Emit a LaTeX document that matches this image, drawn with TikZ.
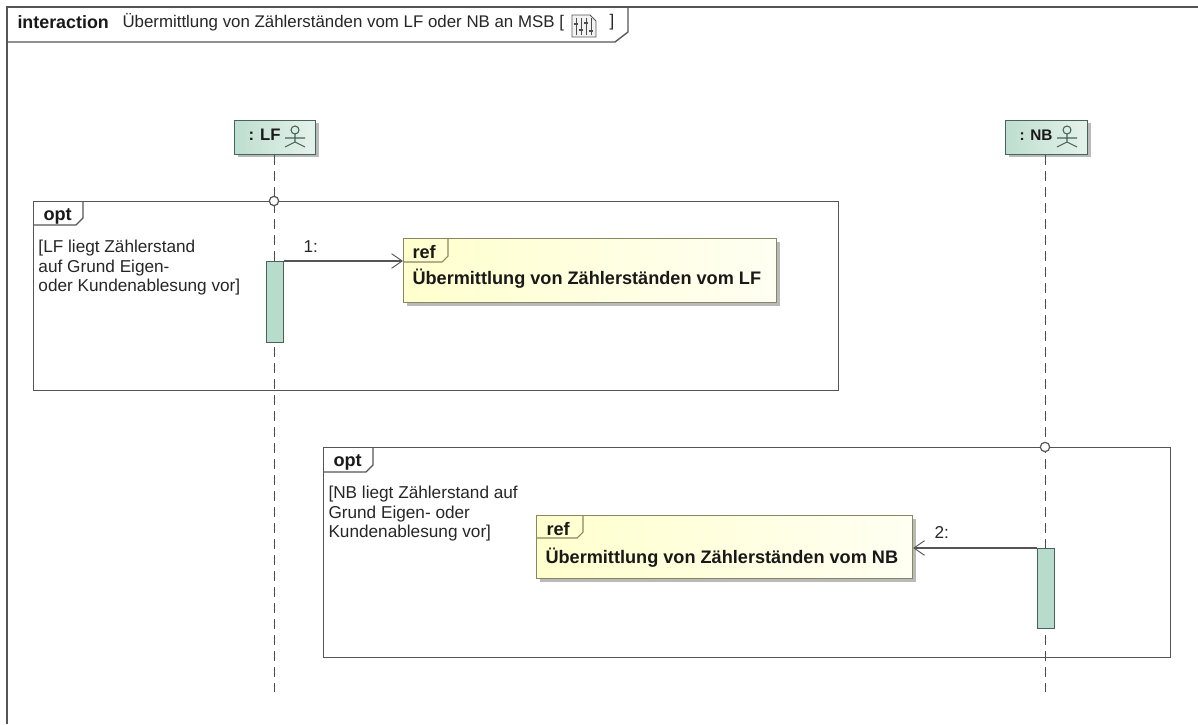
\documentclass[tikz,border=0pt]{standalone}
\usepackage{fontspec}
\setmainfont{Liberation Sans}
\usetikzlibrary{shadows,arrows.meta}

\definecolor{framecol}{RGB}{85,85,85}
\definecolor{headcol}{RGB}{190,222,207}
\definecolor{actcol}{RGB}{184,220,203}
\definecolor{actline}{RGB}{70,100,90}
\definecolor{refcol}{RGB}{255,255,205}
\definecolor{refline}{RGB}{135,135,100}

\tikzset{every picture/.style={line width=0.75pt},
	fragment/.style={draw=framecol,line width=1pt,anchor=north west,inner sep=0,fill=none},
	head/.style={draw=actline,line width=1pt,anchor=north west,inner sep=0,left color=headcol,right color=headcol!40,drop shadow={shadow xshift=2.4pt,shadow yshift=-2.4pt,fill=black!45,opacity=0.6}},
	refbox/.style={draw=refline,line width=0.8pt,anchor=north west,inner sep=0,left color=refcol,right color=refcol!25,drop shadow={shadow xshift=2.4pt,shadow yshift=-2.4pt,fill=black!45,opacity=0.6}},
	activation/.style={draw=actline,line width=0.9pt,fill=actcol,anchor=north west,inner sep=0},
	lifeline/.style={draw=black!70,line width=0.7pt,dash pattern=on 7.5pt off 4.5pt},
	junction/.style={circle,draw=framecol,line width=0.9pt,fill=white,inner sep=0,minimum size=7pt},
	message/.style={draw=framecol,line width=0.9pt,-{Straight Barb[length=8pt,width=11pt,line width=0.7pt]}},
	label/.style={anchor=north west,inner sep=0,text=black!85,font=\fontsize{12.9}{14.8}\selectfont,align=left},
	boldlabel/.style={anchor=west,inner sep=0,text=black!90,font=\fontsize{13.6}{15}\selectfont\bfseries},
	actor/.pic={
		\draw[actline,line width=0.8pt] (0,8) circle (3pt);
		\draw[actline,line width=0.8pt] (0,4) -- (0,-4) (-10,0) -- (10,0) (-10,-9) -- (0,-4) -- (10,-9);
	}
}

\begin{document}
\begin{tikzpicture}[x=0.75pt,y=0.75pt,yscale=-1,xscale=1]
	\useasboundingbox (0,0) rectangle (1198,724);
	
	% Outer frame
	\draw[framecol,line width=1pt] (7,724) -- (7,7) -- (1198,7);
	\draw[framecol,line width=1pt] (7,42) -- (615,42) -- (628,32) -- (628,7);
	% Text Node
	\node[boldlabel,font=\fontsize{13.4}{15}\selectfont\bfseries] (title) at (17,22) {interaction};
	% Text Node
	\node[label,anchor=west,font=\fontsize{12.65}{15}\selectfont] (titletext) at (122,22) {Übermittlung von Zählerständen vom LF oder NB an MSB [};
	% Text Node
	\node[label,anchor=west,font=\fontsize{12.65}{15}\selectfont] (titleend) at (609,22) {]};
	% Diagram icon
	\draw[framecol,line width=0.6pt,fill=black!5] (572,15) -- (590,15) -- (596,21) -- (596,37) -- (572,37) -- cycle;
	\foreach \barx/\knob in {576/24,581/30,586/23,591/31}
	{
		\draw[black!70,line width=0.7pt] (\barx,18) -- (\barx,35);
		\draw[black!70,line width=1.4pt] (\barx-2,\knob) -- (\barx+2,\knob);
	}
	
	% Lifeline heads
	\node[head,minimum width=60.75pt,minimum height=25.5pt] (headLF) at (234,119.5) {};
	\node[head,minimum width=61.5pt,minimum height=25.5pt] (headNB) at (1005,119.5) {};
	\node[boldlabel,font=\fontsize{12.5}{14}\selectfont\bfseries] (nameLF) at (248,135) {: LF};
	\node[boldlabel,font=\fontsize{11.5}{14}\selectfont\bfseries] (nameNB) at (1019,135) {: NB};
	\pic at (295,138) {actor};
	\pic at (1067,138) {actor};
	
	% Lifelines
	\coordinate (endLF) at (274,692);
	\coordinate (endNB) at (1045,692);
	\draw[lifeline] (headLF.south -| endLF) -- (endLF);
	\draw[lifeline] (headNB.south -| endNB) -- (endNB);
	
	% Fragments
	\node[fragment,minimum width=603.75pt,minimum height=141.75pt] (optLF) at (33,201) {};
	\node[fragment,minimum width=635.25pt,minimum height=157.5pt] (optNB) at (323,447) {};
	\draw[framecol,line width=1pt] (33,225) -- (76,225) -- (83,218) -- (83,201);
	\draw[framecol,line width=1pt] (323,472) -- (366,472) -- (373,465) -- (373,447);
	\node[boldlabel] (tabLF) at (43,216) {opt};
	\node[boldlabel] (tabNB) at (333,462) {opt};
	\node[junction] (joinLF) at (274,201) {};
	\node[junction] (joinNB) at (1045,447) {};
	% Text Node
	\node[label] (guardLF) at (38,239.5) {[LF liegt Zählerstand\\auf Grund Eigen-\\oder Kundenablesung vor]};
	% Text Node
	\node[label] (guardNB) at (328,485.5) {[NB liegt Zählerstand auf\\Grund Eigen- oder\\Kundenablesung vor]};
	
	% Activations
	\node[activation,minimum width=12.75pt,minimum height=60.75pt] (actLF) at (266,261) {};
	\node[activation,minimum width=12.75pt,minimum height=60pt] (actNB) at (1037,548) {};
	
	% Interaction uses
	\node[refbox,minimum width=279.75pt,minimum height=48pt] (refLF) at (403,238) {};
	\node[refbox,minimum width=282pt,minimum height=47.25pt] (refNB) at (536,515) {};
	\draw[refline,line width=0.8pt] (403,262) -- (442,262) -- (448,256) -- (448,238);
	\draw[refline,line width=0.8pt] (536,538) -- (577,538) -- (583,532) -- (583,515);
	\node[boldlabel] (tabrefLF) at (412,252) {ref};
	\node[boldlabel] (tabrefNB) at (546,529) {ref};
	% Text Node
	\node[boldlabel] (textrefLF) at (412,279) {Übermittlung von Zählerständen vom LF};
	% Text Node
	\node[boldlabel] (textrefNB) at (545,558) {Übermittlung von Zählerständen vom NB};
	
	% Messages
	\draw[message] (actLF.north east) -- (refLF.west |- actLF.north east);
	\draw[message] (actNB.north west) -- (refNB.east |- actNB.north west);
	\node[label] (msgLF) at (303,240) {1:};
	\node[label] (msgNB) at (934,526) {2:};
	
\end{tikzpicture}
\end{document}
